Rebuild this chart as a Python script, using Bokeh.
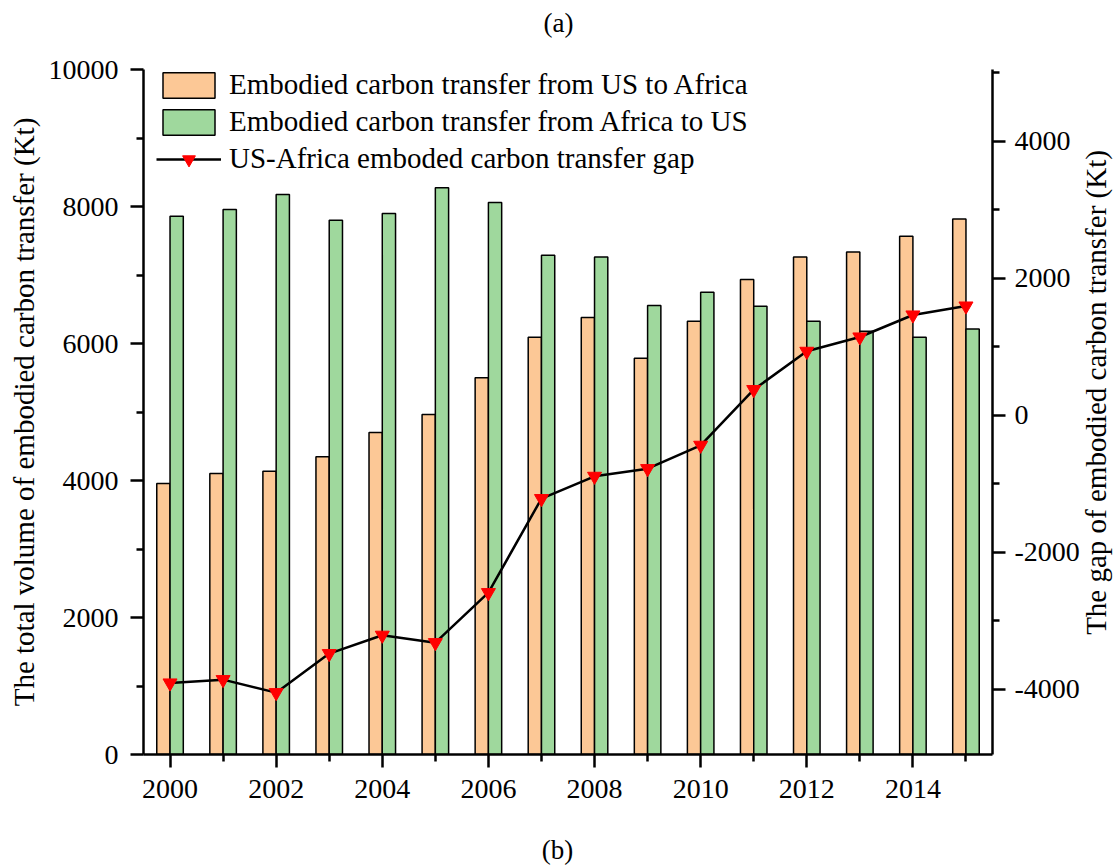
import math
from bokeh.plotting import figure
from bokeh.models import (Range1d, LinearAxis, FixedTicker, Legend, LegendItem,
                          Label, ColumnDataSource)
from bokeh.transform import dodge
from bokeh.embed import file_html
from bokeh.resources import INLINE

# ---------------- data ----------------
years = list(range(2000, 2016))
us_to_africa = [3956, 4102, 4136, 4345, 4701, 4964, 5500, 6092,
                6379, 5785, 6325, 6934, 7264, 7337, 7566, 7819]
africa_to_us = [7858, 7956, 8175, 7800, 7898, 8272, 8058, 7289,
                7264, 6555, 6749, 6545, 6325, 6180, 6092, 6213]
gap = [-3912, -3863, -4053, -3483, -3215, -3323, -2593, -1220,
       -895, -783, -442, 371, 930, 1139, 1460, 1591]

x_major_ticks = [2000, 2002, 2004, 2006, 2008, 2010, 2012, 2014]
x_minor_ticks = [2001, 2003, 2005, 2007, 2009, 2011, 2013, 2015]
left_major_ticks = [0, 2000, 4000, 6000, 8000, 10000]
left_minor_ticks = [1000, 3000, 5000, 7000, 9000]
right_major_ticks = [-4000, -2000, 0, 2000, 4000]
right_tick_labels = ["-4000", "-2000", "0", "2000", "4000"]
right_minor_ticks = [-5000, -3000, -1000, 1000, 3000, 5000]

label_us_africa = "Embodied carbon transfer from US to Africa"
label_africa_us = "Embodied carbon transfer from Africa to US"
label_gap = "US-Africa emboded carbon transfer gap"
left_title = "The total volume of embodied carbon transfer (Kt)"
right_title = "The gap of embodied carbon transfer (Kt)"
top_caption = "(a)"
bottom_caption = "(b)"

FONT = "Liberation Serif"
ORANGE = "#FCC896"
GREEN = "#9FD89D"

src = ColumnDataSource(dict(year=years, us=us_to_africa, af=africa_to_us, gap=gap))

W, H = 1114, 868
BL, BR, BT, BB = 143, 122, 69, 114

p = figure(width=W, height=H, output_backend="svg", toolbar_location=None,
           title=None,
           x_range=Range1d(1999.5, 2015.5), y_range=Range1d(0, 10000),
           min_border_left=BL, min_border_right=BR, min_border_top=BT,
           min_border_bottom=BB)
p.extra_y_ranges = {"gap": Range1d(-4956, 5044)}
p.outline_line_color = None
p.xgrid.visible = False
p.ygrid.visible = False
p.background_fill_color = "white"
p.border_fill_color = "white"

r1 = p.vbar(x=dodge("year", -0.125, range=p.x_range), top="us", bottom=0, width=0.25,
            source=src, fill_color=ORANGE, line_color="black", line_width=1.5)
r2 = p.vbar(x=dodge("year", 0.125, range=p.x_range), top="af", bottom=0, width=0.25,
            source=src, fill_color=GREEN, line_color="black", line_width=1.5)
rl = p.line("year", "gap", source=src, y_range_name="gap", line_color="black",
            line_width=2.5)
rs = p.scatter("year", "gap", source=src, y_range_name="gap", marker="inverted_triangle",
               size=14, fill_color="red", line_color="red")

right_axis = LinearAxis(y_range_name="gap")
p.add_layout(right_axis, "right")

p.xaxis.ticker = FixedTicker(ticks=x_major_ticks, minor_ticks=x_minor_ticks)
p.yaxis[0].ticker = FixedTicker(ticks=left_major_ticks, minor_ticks=left_minor_ticks)
right_axis.ticker = FixedTicker(ticks=right_major_ticks, minor_ticks=right_minor_ticks)
right_axis.major_label_overrides = dict(zip(right_major_ticks, right_tick_labels))
p.yaxis[0].axis_label = left_title

for ax in [p.xaxis[0], p.yaxis[0], right_axis]:
    ax.axis_line_color = "black"
    ax.axis_line_width = 2.5
    ax.major_tick_line_color = "black"
    ax.minor_tick_line_color = "black"
    ax.major_tick_line_width = 2.5
    ax.minor_tick_line_width = 2.5
    ax.major_tick_out = 13
    ax.major_tick_in = 0
    ax.minor_tick_out = 7
    ax.minor_tick_in = 0
    ax.major_label_text_font = FONT
    ax.major_label_text_font_size = "28px"
    ax.major_label_text_color = "black"
    ax.major_label_standoff = 12
    ax.axis_label_text_font = FONT
    ax.axis_label_text_font_size = "29px"
    ax.axis_label_text_font_style = "normal"
    ax.axis_label_text_color = "black"
    ax.axis_label_standoff = 6

right_axis.major_label_standoff = 9

legend = Legend(items=[
    LegendItem(label=label_us_africa, renderers=[r1]),
    LegendItem(label=label_africa_us, renderers=[r2]),
    LegendItem(label=label_gap, renderers=[rl, rs]),
], location=(13, 579))
legend.glyph_width = 65
legend.glyph_height = 32
legend.label_text_font = FONT
legend.label_text_font_size = "29px"
legend.label_text_color = "black"
legend.label_standoff = 8
legend.spacing = 4
legend.padding = 0
legend.margin = 0
legend.border_line_color = None
legend.background_fill_alpha = 0
p.add_layout(legend)

# Texts outside the frame live in side panels (those are not clipped to the frame).
# Labels: x in px from the panel's left edge, y in px up from the panel's bottom.
FRAME_TOP = BT
FRAME_BOTTOM = H - BB
AXIS_W = 88  # width of the right axis panel (ticks + standoff + tick labels)
p.add_layout(Label(x=1093 - (W - BR + AXIS_W), y=FRAME_BOTTOM - 392, x_units="screen",
                   y_units="screen", text=right_title, angle=math.pi / 2,
                   text_font=FONT, text_font_size="29px", text_align="center",
                   text_baseline="middle", text_color="black"), "right")
p.add_layout(Label(x=558 - BL, y=FRAME_TOP - 22, x_units="screen",
                   y_units="screen", text=top_caption, text_font=FONT,
                   text_font_size="27px", text_align="center", text_baseline="middle",
                   text_color="black"), "above")
p.add_layout(Label(x=557 - BL, y=-19, x_units="screen",
                   y_units="screen", text=bottom_caption, text_font=FONT,
                   text_font_size="27px", text_align="center", text_baseline="middle",
                   text_color="black"), "below")

open("out.html", "w").write(file_html(p, INLINE))
